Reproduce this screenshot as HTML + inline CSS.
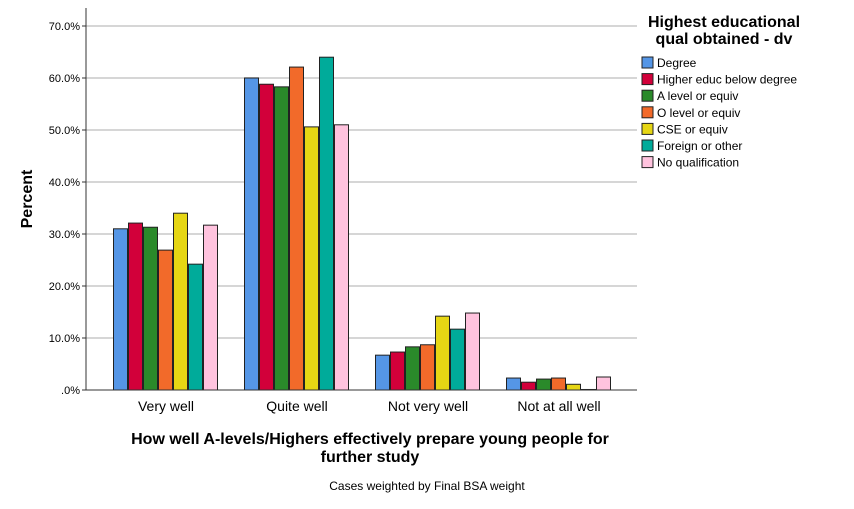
<!DOCTYPE html>
<html><head><meta charset="utf-8"><style>
body{margin:0;background:#fff;font-family:"Liberation Sans",sans-serif}
</style></head><body>
<svg width="854" height="504" id="chart">
<rect width="854" height="504" fill="#fff"/>
<g id="grid"></g><g id="bars"></g><g id="axes"></g>
<text x="32" y="199" transform="rotate(-90 32 199)" text-anchor="middle" font-size="16" font-weight="bold">Percent</text>
<text x="370" y="444" text-anchor="middle" font-size="16" font-weight="bold">How well A-levels/Highers effectively prepare young people for</text>
<text x="370" y="462" text-anchor="middle" font-size="16" font-weight="bold">further study</text>
<text x="427" y="490" text-anchor="middle" font-size="12">Cases weighted by Final BSA weight</text>
<text x="724" y="27" text-anchor="middle" font-size="16" font-weight="bold">Highest educational</text>
<text x="724" y="44" text-anchor="middle" font-size="16" font-weight="bold">qual obtained - dv</text>
<g id="legend"></g>
</svg>
<script>
const categories=["Very well","Quite well","Not very well","Not at all well"];
const seriesNames=["Degree","Higher educ below degree","A level or equiv","O level or equiv","CSE or equiv","Foreign or other","No qualification"];
const degree=[31.0,60.0,6.7,2.3];
const higher=[32.1,58.8,7.3,1.5];
const alevel=[31.3,58.3,8.3,2.1];
const olevel=[26.9,62.1,8.7,2.3];
const cse=[34.0,50.6,14.2,1.1];
const foreign=[24.2,64.0,11.7,0.1];
const noqual=[31.7,51.0,14.8,2.5];
const yTicks=[0,10,20,30,40,50,60,70];
const yTickLabels=[".0%","10.0%","20.0%","30.0%","40.0%","50.0%","60.0%","70.0%"];
const series=[degree,higher,alevel,olevel,cse,foreign,noqual];
const colors=["#5596e6","#d2003a","#2a8a2a","#f26a2a","#e6d614","#00ab9a","#ffc3de"];
const NS="http://www.w3.org/2000/svg";
const X0=86,X1=637,Y0=390;
const y=v=>Y0-v*5.2;
const cx=i=>166+131*i;
function mk(t,a,p){const e=document.createElementNS(NS,t);for(const k in a)e.setAttribute(k,a[k]);p.appendChild(e);return e;}
const grid=document.getElementById('grid'),bars=document.getElementById('bars'),axes=document.getElementById('axes'),leg=document.getElementById('legend');
yTicks.forEach((t,i)=>{
 if(t>0){const g=mk('line',{x1:X0,x2:X1,y1:y(t),y2:y(t),stroke:'#c8c8c8','stroke-width':1.5},grid);
 
 }
 const tx=mk('text',{x:80,y:y(t)+4,'text-anchor':'end','font-size':11},axes);tx.textContent=yTickLabels[i];
 
 
 mk('line',{x1:X0-4,x2:X0,y1:y(t),y2:y(t),stroke:'#333'},axes);
});
mk('line',{x1:X0,x2:X0,y1:8,y2:Y0,stroke:'#333'},axes);
mk('line',{x1:X0,x2:X1,y1:Y0,y2:Y0,stroke:'#333'},axes);
categories.forEach((c,i)=>{
 const t=mk('text',{x:cx(i),y:411,'text-anchor':'middle','font-size':14},axes);t.textContent=c;
 
 
 series.forEach((s,j)=>{
  const bx=cx(i)-52.5+j*15;
  const r=mk('rect',{x:bx,y:y(s[i]),width:14,height:Y0-y(s[i]),fill:colors[j],stroke:'#222','stroke-width':1},bars);
  
  
 });
});
seriesNames.forEach((n,j)=>{
 const yy=57+j*16.6;
 const r=mk('rect',{x:642,y:yy,width:11,height:11,fill:colors[j],stroke:'#222'},leg);
 
 
 const t=mk('text',{x:657,y:yy+10,'font-size':12},leg);t.textContent=n;
 
 
});
</script>
</body></html>
